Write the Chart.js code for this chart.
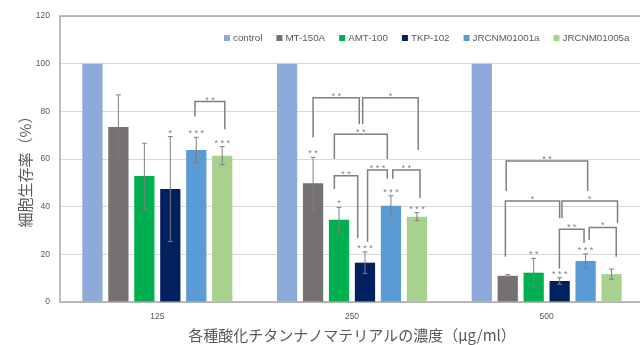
<!DOCTYPE html>
<html>
<head>
<meta charset="utf-8">
<script src="https://cdn.jsdelivr.net/npm/chart.js@4/dist/chart.umd.min.js"></script>
<style>
  html, body { margin: 0; padding: 0; background: #ffffff; overflow: hidden; }
  #wrap { width: 648px; height: 345px; }
</style>
</head>
<body>
<div id="wrap"><canvas id="chart" width="648" height="345"></canvas></div>
<script>
// Concentrations (μg/ml)
const categories = ['125', '250', '500'];
const seriesNames = ['control', 'MT-150A', 'AMT-100', 'TKP-102', 'JRCNM01001a', 'JRCNM01005a'];
const seriesColors = ['#8eaadb', '#767171', '#00b050', '#002060', '#5b9bd5', '#a9d18e'];
const yTitle = '細胞生存率（%）';
const xTitle = '各種酸化チタンナノマテリアルの濃度（μg/ml）';

// Mean cell viability (%)
const control     = [100, 100, 100];
const mt150a      = [73.4, 49.8, 11.0];
const amt100      = [52.9, 34.5, 12.3];
const tkp102      = [47.4, 16.5, 8.8];
const jrcnm01001a = [63.8, 40.4, 17.2];
const jrcnm01005a = [61.4, 35.8, 11.7];

// Standard deviations
const errControl     = [0, 0, 0];
const errMt150a      = [13.5, 10.9, 0.5];
const errAmt100      = [13.7, 5.2, 6.0];
const errTkp102      = [22.0, 4.5, 1.4];
const errJrcnm01001a = [5.3, 4.2, 3.0];
const errJrcnm01005a = [3.8, 1.7, 2.1];

// Significance vs. control
const starsControl     = ['', '', ''];
const starsMt150a      = ['', '**', ''];
const starsAmt100      = ['', '*', '**'];
const starsTkp102      = ['*', '***', '***'];
const starsJrcnm01001a = ['***', '***', '***'];
const starsJrcnm01005a = ['***', '***', ''];

// Pairwise comparisons: [group, from bar, to bar, left leg end, bracket level, right leg end, label]
// bar positions are in bar-slot units (0 = control ... 5 = JRCNM01005a)
const brackets = [
  [0, 3.95, 5.1, 77.8, 84.1, 72.5, '**'],
  [1, 1.0, 2.78, 69.0, 85.7, 74.6, '**'],
  [1, 2.91, 5.05, 74.6, 85.7, 63.8, '*'],
  [1, 1.82, 3.86, 60.0, 70.4, 60.0, '**'],
  [1, 1.82, 2.72, 47.4, 53.0, 26.7, '**'],
  [1, 3.1, 3.86, 25.3, 55.4, 51.7, '***'],
  [1, 4.07, 5.12, 51.7, 55.4, 43.5, '**'],
  [2, 0.94, 4.08, 46.6, 59.2, 46.6, '**'],
  [2, 0.91, 3.0, 19.0, 42.4, 35.1, '*'],
  [2, 3.09, 5.23, 35.1, 42.4, 33.3, '*'],
  [2, 2.99, 3.94, 14.1, 30.5, 24.9, '**'],
  [2, 4.14, 5.18, 26.0, 31.3, 19.0, '*']
];

const seriesValues = [control, mt150a, amt100, tkp102, jrcnm01001a, jrcnm01005a];
const seriesErrors = [errControl, errMt150a, errAmt100, errTkp102, errJrcnm01001a, errJrcnm01005a];
const seriesStars  = [starsControl, starsMt150a, starsAmt100, starsTkp102, starsJrcnm01001a, starsJrcnm01005a];

const TEXT = '#595959';
const MARK = '#7f7f7f';
const CJK = '"Noto Sans CJK JP", sans-serif';

const datasets = seriesNames.map((name, i) => ({
  label: name,
  data: seriesValues[i],
  errors: seriesErrors[i],
  stars: seriesStars[i],
  backgroundColor: seriesColors[i],
  borderWidth: 0,
  categoryPercentage: 0.8,
  barPercentage: 0.78
}));

// Plot frame
const framePlugin = {
  id: 'frame',
  beforeDatasetsDraw(chart) {
    const { ctx, chartArea: a } = chart;
    ctx.save();
    ctx.strokeStyle = '#a6a6a6';
    ctx.lineWidth = 1.5;
    ctx.strokeRect(a.left, a.top, a.right - a.left, a.bottom - a.top);
    ctx.restore();
  }
};

// Error bars, significance marks and comparison brackets
const annotatePlugin = {
  id: 'annotate',
  afterDatasetsDraw(chart) {
    const { ctx } = chart;
    const y = chart.scales.y;
    ctx.save();
    ctx.strokeStyle = MARK;
    ctx.fillStyle = MARK;
    ctx.lineWidth = 1;
    ctx.font = '9px "Liberation Sans", sans-serif';
    ctx.textAlign = 'center';
    ctx.textBaseline = 'alphabetic';

    chart.data.datasets.forEach((ds, i) => {
      const meta = chart.getDatasetMeta(i);
      meta.data.forEach((bar, j) => {
        const v = ds.data[j];
        const e = ds.errors[j];
        let top = y.getPixelForValue(v);
        if (e > 0) {
          const yt = y.getPixelForValue(v + e);
          const yb = y.getPixelForValue(v - e);
          ctx.beginPath();
          ctx.moveTo(bar.x, yt); ctx.lineTo(bar.x, yb);
          ctx.moveTo(bar.x - 2.5, yt); ctx.lineTo(bar.x + 2.5, yt);
          ctx.moveTo(bar.x - 2.5, yb); ctx.lineTo(bar.x + 2.5, yb);
          ctx.stroke();
          top = yt;
        }
        if (ds.stars[j]) ctx.fillText(ds.stars[j].split('').join(' '), bar.x, top - 1);
      });
    });

    const slotX = (g, s) => {
      const x0 = chart.getDatasetMeta(0).data[g].x;
      const step = chart.getDatasetMeta(1).data[g].x - x0;
      return x0 + s * step;
    };
    ctx.lineWidth = 1.5;
    brackets.forEach(([g, s1, s2, b1, lvl, b2, label]) => {
      const xl = slotX(g, s1), xr = slotX(g, s2);
      const yl = y.getPixelForValue(lvl);
      ctx.beginPath();
      ctx.moveTo(xl, y.getPixelForValue(b1));
      ctx.lineTo(xl, yl);
      ctx.lineTo(xr, yl);
      ctx.lineTo(xr, y.getPixelForValue(b2));
      ctx.stroke();
      ctx.fillText(label.split('').join(' '), (xl + xr) / 2, yl + 1);
    });
    ctx.restore();
  },
  afterDraw(chart) {
    const { ctx } = chart;
    ctx.save();
    // Legend inside the plot area
    ctx.font = '9.8px "Liberation Sans", sans-serif';
    ctx.textBaseline = 'middle';
    ctx.textAlign = 'left';
    let x = 224;
    const yc = 38;
    chart.data.datasets.forEach(ds => {
      ctx.fillStyle = ds.backgroundColor;
      ctx.fillRect(x, yc - 3, 6, 6);
      ctx.fillStyle = TEXT;
      ctx.fillText(ds.label, x + 9, yc + 0.5);
      x += 9 + ctx.measureText(ds.label).width + 14;
    });
    // Vertical axis title
    ctx.translate(25, 168);
    ctx.rotate(-Math.PI / 2);
    ctx.font = '15px ' + CJK;
    ctx.textAlign = 'center';
    ctx.fillStyle = TEXT;
    ctx.fillText(yTitle, 0, 0);
    ctx.restore();
  }
};

new Chart(document.getElementById('chart'), {
  type: 'bar',
  data: { labels: categories, datasets },
  options: {
    responsive: false,
    animation: false,
    devicePixelRatio: 1,
    layout: { padding: { top: 16, right: 4, left: 0, bottom: 0 } },
    plugins: { legend: { display: false }, tooltip: { enabled: false } },
    scales: {
      x: {
        grid: { display: false, drawTicks: false },
        border: { display: false },
        ticks: { color: TEXT, font: { family: '"Liberation Sans", sans-serif', size: 8.5 }, padding: 10 },
        title: {
          display: true,
          text: xTitle,
          color: TEXT,
          font: { family: CJK, size: 15 },
          padding: { top: 2, bottom: 1 }
        },
        afterFit(scale) { scale.height = 43; }
      },
      y: {
        min: 0,
        max: 120,
        ticks: { stepSize: 20, color: TEXT, font: { family: '"Liberation Sans", sans-serif', size: 8.5 }, padding: 10 },
        grid: { color: '#d9d9d9', lineWidth: 1, drawTicks: false },
        border: { display: false },
        afterFit(scale) { scale.width = 60; }
      }
    }
  },
  plugins: [framePlugin, annotatePlugin]
});
</script>
</body>
</html>
